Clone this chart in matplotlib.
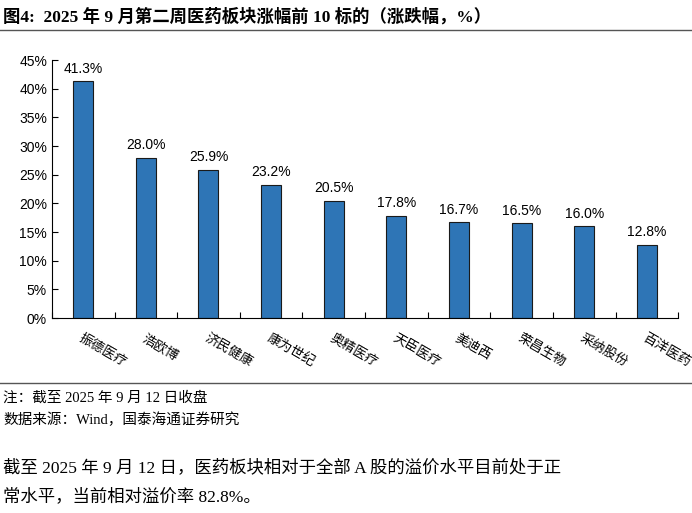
import matplotlib.pyplot as plt
from matplotlib.ticker import PercentFormatter
from matplotlib.lines import Line2D

names = ["振德医疗", "浩欧博", "济民健康", "康为世纪", "奥精医疗",
         "天臣医疗", "美迪西", "荣昌生物", "采纳股份", "百洋医药"]
values = [41.3, 28.0, 25.9, 23.2, 20.5, 17.8, 16.7, 16.5, 16.0, 12.8]

cjk = ['Liberation Serif', 'Noto Sans CJK SC']
plt.rcParams['font.family'] = ['Liberation Sans', 'Noto Sans CJK SC']

fig = plt.figure(figsize=(6.92, 5.13), dpi=100)
ax = fig.add_axes([0.075, 0.38, 0.905, 0.503])
x = range(len(names))
ax.bar(x, values, width=0.32, color='#2e75b6', edgecolor='#1a1a1a', linewidth=0.8)
for i, v in zip(x, values):
    ax.text(i, v + 1, f"{v:.1f}%", ha='center', va='bottom', fontsize=10)
ax.set_ylim(0, 45)
ax.set_yticks(range(0, 46, 5))
ax.yaxis.set_major_formatter(PercentFormatter(decimals=0))
ax.set_xlim(-0.5, len(names) - 0.5)
ax.set_xticks([i - 0.5 for i in range(len(names) + 1)], minor=False)
ax.set_xticklabels([])
ax.set_xticks(list(x), minor=True)
ax.set_xticklabels(names, minor=True, rotation=-30, ha='left', rotation_mode='anchor',
                   fontsize=9.5, family=cjk)
ax.tick_params(axis='x', which='minor', length=0, pad=10)
ax.tick_params(axis='x', which='major', length=4, direction='in')
ax.tick_params(axis='y', labelsize=10, length=4, direction='in')
for s in ['top', 'right']:
    ax.spines[s].set_visible(False)

fig.text(0.005, 0.968, "图4:  2025 年 9 月第二周医药板块涨幅前 10 标的（涨跌幅，%）",
         fontsize=12.5, fontweight='bold', family=cjk, va='center')
for y in [0.942, 0.253]:
    fig.add_artist(Line2D([0, 1], [y, y], color='#555555', lw=1))
fig.text(0.005, 0.225, "注：截至 2025 年 9 月 12 日收盘", fontsize=10.5, family=cjk, va='center')
fig.text(0.005, 0.182, "数据来源：Wind，国泰海通证券研究", fontsize=10.5, family=cjk, va='center')
fig.text(0.005, 0.088, "截至 2025 年 9 月 12 日，医药板块相对于全部 A 股的溢价水平目前处于正",
         fontsize=12.5, family=cjk, va='center')
fig.text(0.005, 0.031, "常水平，当前相对溢价率 82.8%。", fontsize=12.5, family=cjk, va='center')

fig.savefig("out.png", dpi=100)
